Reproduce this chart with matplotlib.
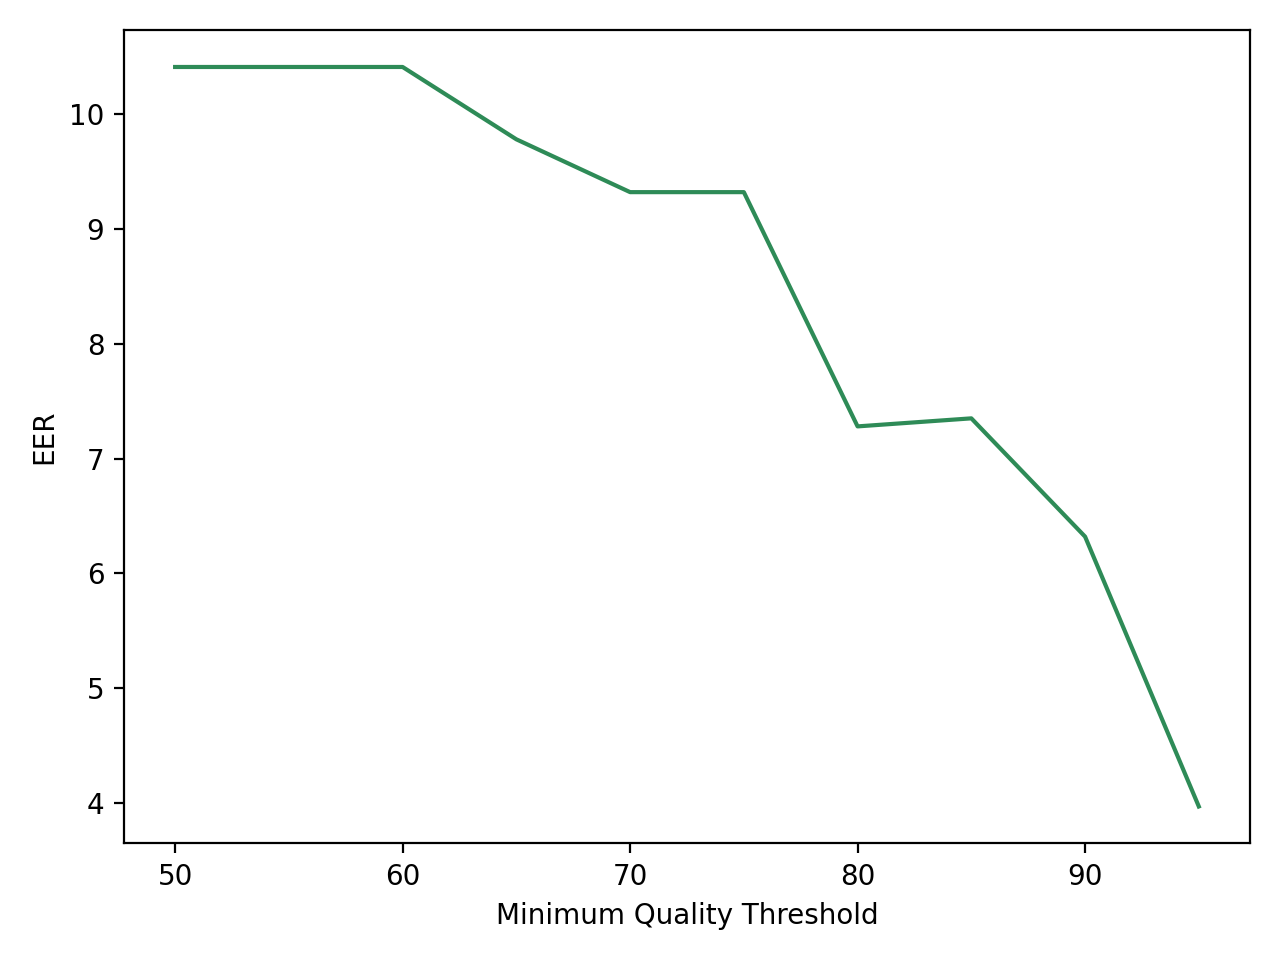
import matplotlib
matplotlib.use("Agg")
import matplotlib.pyplot as plt

thresholds = [50, 55, 60, 65, 70, 75, 80, 85, 90, 95]
eer = [10.41, 10.41, 10.41, 9.78, 9.32, 9.32, 7.28, 7.35, 6.32, 3.97]

fig, ax = plt.subplots(figsize=(6.4, 4.8), dpi=200)
ax.plot(thresholds, eer, color="seagreen")
ax.set_xlabel("Minimum Quality Threshold")
ax.set_ylabel("EER")
fig.tight_layout()
fig.savefig("out.png", dpi=200)
